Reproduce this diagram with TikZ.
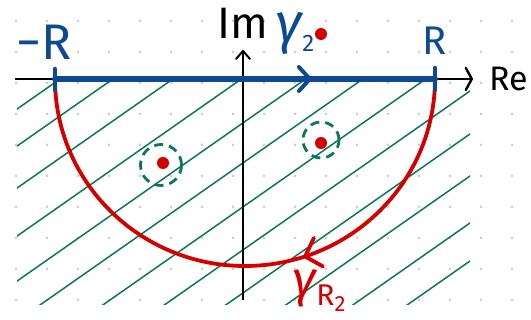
\documentclass[tikz,border=0pt]{standalone}
\usepackage{fontspec}
\setsansfont{Fira Sans}
\usetikzlibrary{arrows.meta,positioning,decorations.markings}
\definecolor{penblue}{RGB}{14,74,146}
\definecolor{penred}{RGB}{212,0,0}
\definecolor{pengreen}{RGB}{12,118,88}
\definecolor{dotgray}{RGB}{205,205,205}
\newcommand{\subsz}[2]{{\fontsize{#1}{#1}\selectfont #2}}

\begin{document}
\begin{tikzpicture}[
  x=1pt, y=1pt,
  lbl/.style={inner sep=0pt, font=\sffamily\fontsize{40}{40}\selectfont},
  glbl/.style={inner sep=0pt, font=\sffamily\itshape\fontsize{56}{56}\selectfont},
  axis/.style={line width=1.1pt},
  hatch/.style={pengreen, line width=1.5pt},
  contour/.style={penblue, line width=6pt, line cap=round},
  halfarc/.style={penred, line width=3.8pt},
  hole/.style={draw=pengreen, circle, line width=2.8pt, dash pattern=on 9pt off 6pt,
               inner sep=0pt},
  pole/.style={fill=penred, circle, minimum size=12pt, inner sep=0pt}
]
  \useasboundingbox (0,0) rectangle (531,320);
  % dotted paper
  \foreach \x in {16,47,...,512}
    \foreach \y in {20,51,...,299}
      \fill[dotgray] (\x,\y) circle (1.5);
  % shaded lower half-plane
  \begin{scope}
    \clip (17,15) rectangle (470,240);
    \foreach \c in {121,158,200,248,293,333,377,420,463,505,552,590}
      \draw[hatch] (0,320-\c) -- ++(531,371.7);
  \end{scope}
  \coordinate (xl) at (15,241);
  \coordinate (xr) at (473,241);
  \coordinate (ybot) at (243,20);
  \coordinate (ytop) at (243,270);
  \coordinate (mR) at (55,241);
  \coordinate (pR) at (435,241);
  % axes
  \draw[axis, -{Straight Barb[length=6pt,width=22pt,line width=2.4pt,round]}] (xl) -- (xr);
  \draw[axis, -{Straight Barb[length=8pt,width=14pt,line width=2pt,round]}] (ybot) -- (ytop);
  % lower half circle, clockwise
  \draw[halfarc, postaction={decorate}, decoration={markings,
        mark=at position 0.4 with {\arrow{Straight Barb[length=14pt,width=30pt,line width=3.8pt,round]}}}]
    (pR) arc[start angle=0, end angle=-180, x radius=190, y radius=187];
  % segment on the real axis
  \draw[contour, postaction={decorate}, decoration={markings,
        mark=at position 0.676 with {\arrow{Straight Barb[length=11pt,width=24pt,line width=4pt,round]}}}]
    (mR) -- (pR);
  \draw[contour, line width=4.5pt] ([yshift=-11pt]mR) -- ([yshift=10pt]mR);
  \draw[contour, line width=4.5pt] ([yshift=-11pt]pR) -- ([yshift=11pt]pR);
  % poles and small circles round them
  \node[hole, minimum size=36pt] (holeA) at (321,180) {};
  \node[hole, minimum size=41pt] (holeB) at (161,155) {};
  \node[pole] (poleA) at (321,177) {};
  \node[pole] (poleB) at (163,157) {};
  \node[pole] (poleC) at (321,286) {};
  % labels
  \node[lbl, font=\sffamily\fontsize{50}{50}\selectfont, text=penblue,
        above=19pt of mR, xshift=-11pt] (mRlab) {−R};
  \node[lbl, text=penblue, above=24pt of pR] (Rlab) {R};
  \node[lbl, font=\sffamily\fontsize{44}{44}\selectfont, above=11pt of ytop] (imlab) {Im};
  \node[lbl, font=\sffamily\fontsize{34}{34}\selectfont, right=16pt of xr] (relab) {Re};
  \node[glbl, text=penblue] (gamlab) at (295,287)
    {γ\raisebox{-9pt}{\subsz{24}{\upshape 2}}};
  \node[glbl, font=\sffamily\itshape\fontsize{50}{50}\selectfont, text=penred]
    (gamRlab) at (319,29)
    {γ\raisebox{-9pt}{\subsz{30}{\upshape R}\raisebox{-6pt}{\subsz{22}{\upshape 2}}}};
\end{tikzpicture}
\end{document}
